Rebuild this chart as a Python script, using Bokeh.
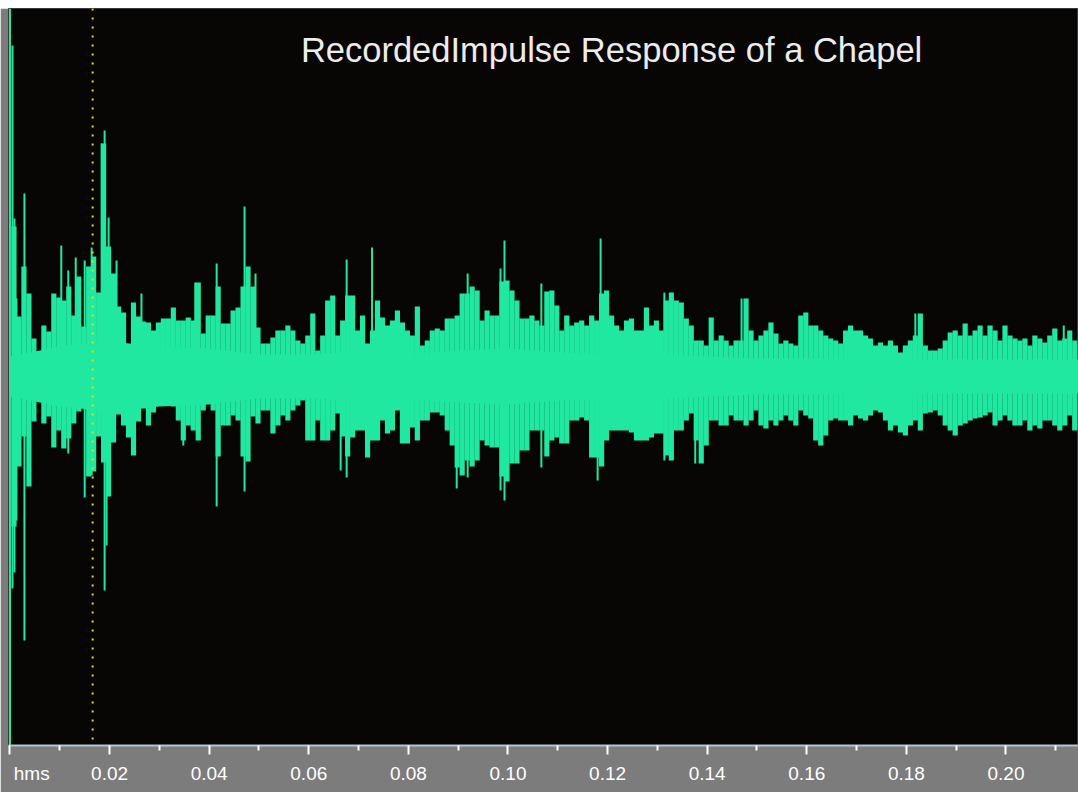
import numpy as np
from bokeh.plotting import figure
from bokeh.layouts import column
from bokeh.models import Range1d, FixedTicker, Label, Span, Spacer
from bokeh.embed import file_html
from bokeh.resources import INLINE

title_text = "RecordedImpulse Response of a Chapel"
unit_label = "hms"
unit_tick = 0.0
tick_values = [0.02, 0.04, 0.06, 0.08, 0.10, 0.12, 0.14, 0.16, 0.18, 0.20]
tick_labels = ["0.02", "0.04", "0.06", "0.08", "0.10", "0.12", "0.14", "0.16", "0.18", "0.20"]
minor_tick_values = [0.01, 0.03, 0.05, 0.07, 0.09, 0.11, 0.13, 0.15, 0.17, 0.19, 0.21]
cursor_time = 0.0166

# waveform envelope, one column per millisecond (amplitude, full scale ~ +/-368)
body_start = 0.0008
body_step = 0.001
body_high = [150, 60, 110, 83, 38, 20, 51, 45, 83, 79,
             76, 90, 61, 100, 50, 110, 120, 84, 233, 130,
             103, 70, 64, 21, 74, 60, 55, 54, 46, 54,
             58, 58, 69, 56, 56, 59, 56, 94, 43, 61,
             61, 90, 53, 53, 66, 69, 90, 110, 90, 49,
             33, 33, 39, 46, 46, 51, 46, 36, 33, 41,
             63, 26, 41, 76, 81, 41, 56, 81, 81, 46,
             61, 33, 46, 76, 59, 51, 56, 66, 54, 46,
             41, 70, 31, 36, 46, 48, 46, 58, 58, 61,
             83, 83, 90, 86, 56, 66, 61, 61, 95, 96,
             86, 76, 58, 58, 61, 56, 51, 85, 86, 71,
             46, 61, 51, 54, 56, 51, 61, 56, 83, 86,
             61, 51, 46, 56, 58, 46, 46, 69, 51, 56,
             46, 76, 84, 76, 74, 58, 51, 36, 36, 31,
             59, 36, 41, 36, 31, 36, 36, 78, 46, 36,
             41, 46, 54, 43, 33, 36, 33, 31, 61, 64,
             51, 51, 46, 41, 38, 36, 33, 46, 51, 46,
             46, 41, 38, 31, 34, 31, 36, 31, 24, 31,
             36, 41, 63, 31, 26, 26, 28, 36, 44, 46,
             41, 53, 41, 46, 51, 41, 51, 46, 36, 51,
             41, 38, 36, 38, 31, 41, 38, 34, 41, 48,
             36, 38, 46, 36]
body_low = [-150, -90, -60, -110, -45, -20, -47, -40, -71, -54,
            -72, -62, -47, -35, -30, -100, -95, -60, -86, -120,
            -66, -38, -49, -61, -79, -45, -32, -49, -36, -25,
            -26, -26, -30, -44, -64, -49, -54, -64, -34, -24,
            -34, -80, -49, -49, -39, -44, -80, -85, -40, -47,
            -34, -34, -57, -49, -39, -44, -34, -29, -24, -64,
            -64, -44, -64, -64, -54, -37, -60, -80, -61, -54,
            -54, -81, -64, -64, -44, -57, -54, -34, -67, -67,
            -51, -64, -44, -44, -36, -36, -39, -54, -69, -91,
            -99, -84, -90, -84, -64, -69, -71, -71, -100, -105,
            -87, -87, -74, -74, -54, -54, -54, -80, -64, -61,
            -67, -67, -44, -44, -41, -44, -81, -81, -90, -64,
            -54, -54, -54, -54, -56, -64, -64, -64, -61, -57,
            -57, -79, -84, -54, -54, -44, -37, -64, -87, -69,
            -44, -44, -49, -49, -39, -44, -44, -49, -44, -34,
            -49, -52, -44, -49, -44, -39, -44, -49, -34, -39,
            -42, -64, -69, -59, -44, -42, -44, -44, -49, -39,
            -42, -44, -39, -34, -36, -44, -54, -49, -56, -59,
            -49, -44, -54, -37, -36, -34, -39, -49, -54, -59,
            -49, -47, -44, -42, -41, -39, -36, -49, -44, -39,
            -44, -49, -49, -44, -54, -49, -52, -44, -44, -49,
            -54, -49, -39, -54]

# solid core of the waveform
core_times = [0.00, 0.01, 0.02, 0.03, 0.04, 0.05, 0.06, 0.07, 0.08, 0.09, 0.10,
              0.11, 0.12, 0.13, 0.14, 0.15, 0.16, 0.17, 0.18, 0.19, 0.20, 0.215]
core_amp = [20, 30, 35, 30, 28, 22, 22, 24, 22, 26, 28,
            24, 22, 22, 20, 18, 18, 17, 17, 17, 17, 17]

# isolated single-column spikes
spike_times = [0.0000, 0.0005, 0.0009, 0.0013, 0.0029, 0.0103, 0.0117, 0.0132, 0.0150, 0.0164,
               0.0184, 0.0190, 0.0194, 0.0198, 0.0214, 0.0264, 0.0348, 0.0372, 0.0415, 0.0471,
               0.0493, 0.0664, 0.0676, 0.0727, 0.0897, 0.0919, 0.0985, 0.0993, 0.1067, 0.1180,
               0.1186, 0.1314, 0.1376, 0.1469, 0.1818, 0.2116]
spike_high = [368, 331, 158, 78, 183, 131, 106, 119, 116, 129,
              233, 246, 0, 159, 116, 83, 0, 94, 113, 170,
              103, 0, 117, 129, 0, 103, 108, 136, 93, 0,
              138, 84, 0, 78, 63, 51]
spike_low = [-369, -212, -196, -144, -264, 0, -77, 0, -121, -99,
             0, -214, -169, 0, 0, 0, -69, 0, -130, -115,
             0, -94, -101, 0, -112, -101, -114, -124, -91, -104,
             0, -84, -87, 0, 0, 0]

WAVE = "#20e8a0"
FONT = "Liberation Sans"

t_body = body_start + body_step * np.arange(len(body_high))

p = figure(width=1078, height=784, output_backend="svg", toolbar_location=None,
           x_range=Range1d(-0.0003, 0.21456), y_range=Range1d(-369, 368),
           y_axis_location=None, x_axis_location="below",
           min_border_left=8, min_border_right=0, min_border_top=0, min_border_bottom=47)
p.background_fill_color = "#080505"
p.border_fill_color = "#7c7c7c"
p.outline_line_color = "#3a3a3a"
p.xgrid.visible = False
p.ygrid.visible = False

p.varea(x=core_times, y1=[-a for a in core_amp], y2=core_amp, fill_color=WAVE)
p.vbar(x=t_body, top=body_high, bottom=body_low, width=body_step * 1.04,
       fill_color=WAVE, line_color=None)
p.segment(x0=spike_times, y0=spike_low, x1=spike_times, y1=spike_high,
          line_color=WAVE, line_width=2)

p.add_layout(Span(location=cursor_time, dimension="height", line_color="#e0e000",
                  line_dash="2 7", line_width=2))

p.add_layout(Label(x=0.1208, y=327, text=title_text, text_align="center",
                   text_baseline="alphabetic", text_font_size="34.5px",
                   text_color="#ececec", text_font=FONT))

# one axis: the unit marker sits on the t=0 tick (label is kept inside the panel)
label_positions = [unit_tick] + tick_values
label_texts = ["\u2002\u2009" + unit_label] + tick_labels
ax = p.xaxis[0]
ax.ticker = FixedTicker(ticks=label_positions, minor_ticks=minor_tick_values)
ax.major_label_overrides = {v: l for v, l in zip(label_positions, label_texts)}
ax.axis_line_color = "#b4c4d4"
ax.axis_line_width = 2
ax.major_tick_line_color = "white"
ax.major_tick_line_width = 2
ax.major_tick_in = 0
ax.major_tick_out = 9
ax.minor_tick_line_color = "white"
ax.minor_tick_line_width = 2
ax.minor_tick_in = 0
ax.minor_tick_out = 5
ax.major_label_text_color = "white"
ax.major_label_text_font = FONT
ax.major_label_text_font_size = "19px"
ax.major_label_standoff = 8

layout = column(Spacer(width=1078, height=8), p, spacing=0)
open("out.html", "w").write(file_html(layout, INLINE))
